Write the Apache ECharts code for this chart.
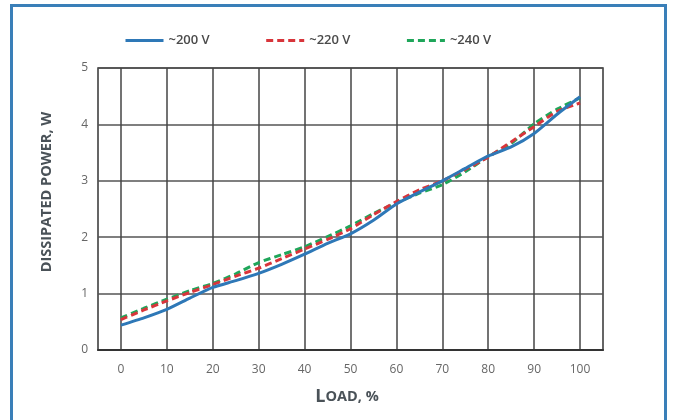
<!DOCTYPE html>
<html>
<head>
<meta charset="utf-8">
<script src="https://cdn.jsdelivr.net/npm/echarts@6/dist/echarts.min.js"></script>
<style>html,body{margin:0;padding:0;background:#fff;}#c{width:673px;height:420px;}</style>
</head>
<body>
<div id="c"></div>
<script>
const loads = [0,5,10,15,20,25,30,35,40,45,50,55,60,65,70,75,80,85,90,95,100];
const v200 = [0.44,0.57,0.72,0.92,1.11,1.23,1.36,1.52,1.70,1.89,2.06,2.30,2.59,2.80,3.00,3.22,3.44,3.60,3.84,4.18,4.49];
const v220 = [0.54,0.71,0.87,1.02,1.16,1.31,1.45,1.62,1.79,1.96,2.15,2.40,2.63,2.84,3.00,3.20,3.42,3.69,3.96,4.23,4.38];
const v240 = [0.57,0.74,0.90,1.05,1.18,1.35,1.55,1.69,1.83,2.01,2.20,2.42,2.61,2.78,2.93,3.16,3.43,3.66,4.01,4.27,4.47];
const xTicks = [0,10,20,30,40,50,60,70,80,90,100];
const seriesNames = ['~200 V','~220 V','~240 V'];

const pair = arr => loads.map((x,i)=>[x,arr[i]]);
const chart = echarts.init(document.getElementById('c'));
const font = '"Open Sans", "DejaVu Sans", sans-serif';
chart.setOption({
  animation:false,
  backgroundColor:'#fff',
  textStyle:{fontFamily:font},
  graphic:[
    {type:'rect', shape:{x:11.5,y:5.5,width:654,height:440}, style:{fill:'none',stroke:'#3a7fb8',lineWidth:3}, z:-1},
    {type:'text', x:47, y:192, rotation:Math.PI/2, style:{text:'DISSIPATED POWER, W', fill:'#4a5258', font:'bold 14.5px '+font, align:'center', verticalAlign:'middle'}},
    {type:'text', x:347, y:397, style:{
      text:'{a|L}{b|OAD, %}', align:'center', verticalAlign:'middle',
      rich:{a:{fontSize:18,fontWeight:'bold',fill:'#4a5258',fontFamily:font}, b:{fontSize:14.5,fontWeight:'bold',fill:'#4a5258',fontFamily:font}}
    }}
  ],
  legend:{
    left:119, top:29, itemWidth:38, itemHeight:8, itemGap:55,
    itemStyle:{color:'transparent', borderColor:'transparent', borderWidth:0},
    lineStyle:{width:3},
    textStyle:{fontSize:13, fontWeight:600, color:'#4a4a4a', fontFamily:font},
    data:seriesNames
  },
  grid:{left:98, right:70, top:68, bottom:70, show:true, borderColor:'#333', borderWidth:1.5},
  xAxis:{
    type:'value', min:-5, max:105,
    axisLine:{show:true, onZero:false, lineStyle:{color:'#333', width:2}},
    axisTick:{show:false, customValues:xTicks},
    axisLabel:{customValues:xTicks, color:'#666', fontSize:12, margin:14},
    splitLine:{show:true, lineStyle:{color:'#444', width:1.5}}
  },
  yAxis:{
    type:'value', min:0, max:5, interval:1,
    axisLine:{show:false}, axisTick:{show:false},
    axisLabel:{color:'#666', fontSize:12, margin:10, padding:[6,0,0,0]},
    splitLine:{show:true, lineStyle:{color:'#555', width:1.5}}
  },
  series:[
    {name:seriesNames[0], type:'line', data:pair(v200), smooth:0.2, symbol:'none', z:5,
     lineStyle:{color:'#2e78b7', width:3}, itemStyle:{color:'#2e78b7'}},
    {name:seriesNames[1], type:'line', data:pair(v220), smooth:0.2, symbol:'none', z:3,
     lineStyle:{color:'#d8353b', width:3, type:[7,4]}, itemStyle:{color:'#d8353b'}},
    {name:seriesNames[2], type:'line', data:pair(v240), smooth:0.2, symbol:'none', z:2,
     lineStyle:{color:'#1fa65a', width:3, type:[7,4]}, itemStyle:{color:'#1fa65a'}}
  ]
});
</script>
</body>
</html>
